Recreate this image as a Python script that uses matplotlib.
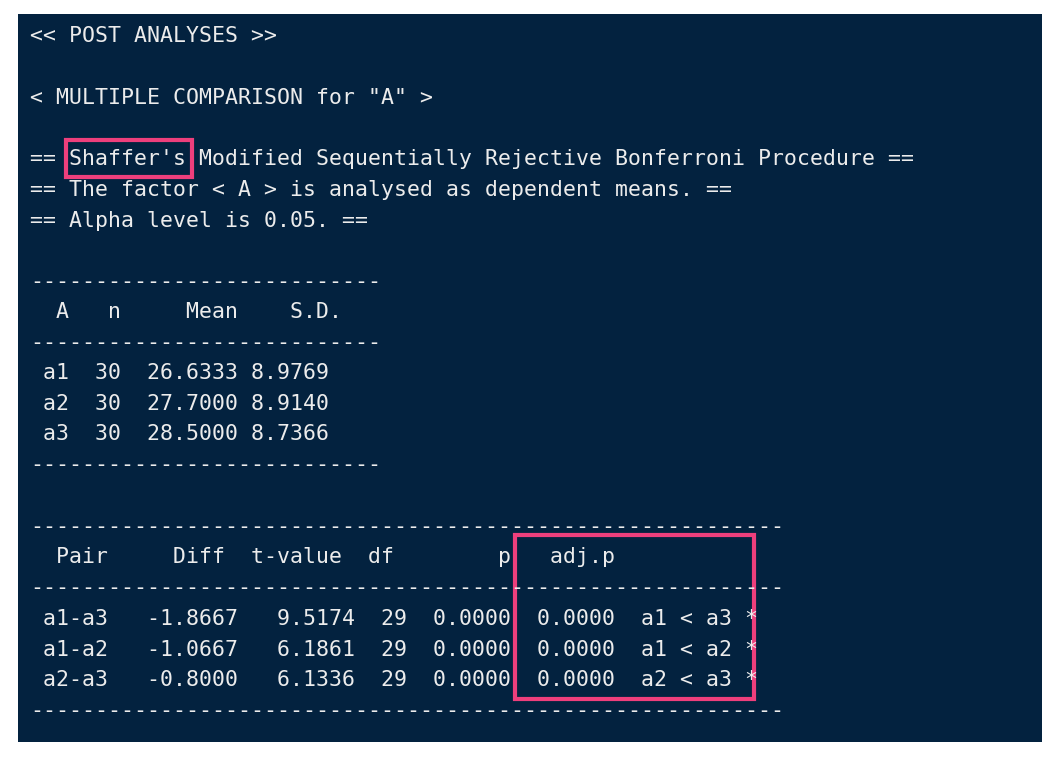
import matplotlib
matplotlib.use("Agg")
import matplotlib.pyplot as plt
from matplotlib.patches import Rectangle

levels = ["a1", "a2", "a3"]
ns = [30, 30, 30]
means = [26.6333, 27.7000, 28.5000]
sds = [8.9769, 8.9140, 8.7366]
pairs = ["a1-a3", "a1-a2", "a2-a3"]
diffs = [-1.8667, -1.0667, -0.8000]
tvals = [9.5174, 6.1861, 6.1336]
dfs = [29, 29, 29]
ps = [0.0, 0.0, 0.0]
adjps = [0.0, 0.0, 0.0]
interp = ["a1 < a3 *", "a1 < a2 *", "a2 < a3 *"]

lines = {}
lines[36] = "<< POST ANALYSES >>"
lines[98] = '< MULTIPLE COMPARISON for "A" >'
lines[159] = "== Shaffer's Modified Sequentially Rejective Bonferroni Procedure =="
lines[190] = "== The factor < A > is analysed as dependent means. =="
lines[221] = "== Alpha level is 0.05. =="
lines[282] = "-" * 27
lines[312] = "  A   n     Mean    S.D."
lines[343] = "-" * 27
for i in range(3):
    lines[373 + i * 30.7] = f" {levels[i]}  {ns[i]}  {means[i]:.4f} {sds[i]:.4f}"
lines[465] = "-" * 27
lines[527] = "-" * 58
lines[557] = "  Pair     Diff  t-value  df        p   adj.p"
lines[588] = "-" * 58
for i in range(3):
    lines[619 + i * 30.7] = (f" {pairs[i]}   {diffs[i]:.4f}   {tvals[i]:.4f}  {dfs[i]}"
                             f"  {ps[i]:.4f}  {adjps[i]:.4f}  {interp[i]}")
lines[711] = "-" * 58

fig = plt.figure(figsize=(10.56, 7.58), dpi=100)
fig.patch.set_facecolor("white")
ax = fig.add_axes([0, 0, 1, 1])
ax.set_xlim(0, 1056)
ax.set_ylim(758, 0)
ax.axis("off")
ax.add_patch(Rectangle((18, 14), 1024, 728, facecolor="#03223f", edgecolor="none"))
for y, s in lines.items():
    ax.text(30, y, s, family="DejaVu Sans Mono", fontsize=15.5, color="#ececec",
            va="center", ha="left")
pink = "#ee3f7c"
ax.add_patch(Rectangle((66, 140), 126, 37, facecolor="none", edgecolor=pink, lw=3))
ax.add_patch(Rectangle((515, 535), 239, 164, facecolor="none", edgecolor=pink, lw=3))
fig.savefig("out.png", dpi=100)
